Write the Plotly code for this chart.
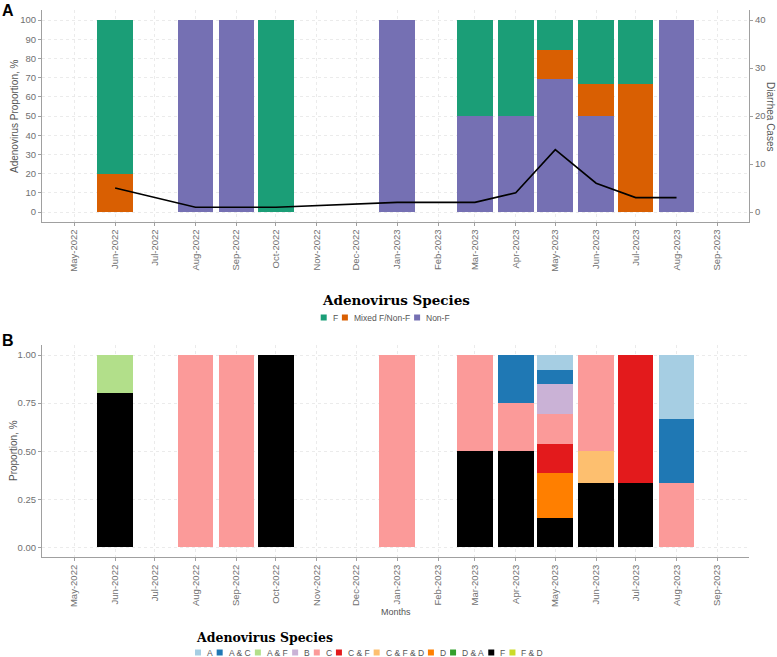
import plotly.graph_objects as go

# ---------------- data ----------------
months = ["2022-06-01", "2022-08-01", "2022-09-01", "2022-10-01", "2023-01-01",
          "2023-03-01", "2023-04-01", "2023-05-01", "2023-06-01", "2023-07-01", "2023-08-01"]

# Panel A: adenovirus proportion (%)
pct_F = [80, 0, 0, 100, 0, 50, 50, 15.4, 33.3, 33.3, 0]
pct_mixed = [20, 0, 0, 0, 0, 0, 0, 15.4, 16.7, 66.7, 0]
pct_nonF = [0, 100, 100, 0, 100, 50, 50, 69.2, 50, 0, 100]
diarrhea_cases = [5, 1, 1, 1, 2, 2, 4, 13, 6, 3, 3]

groups_A = ["F", "Mixed F/Non-F", "Non-F"]
colors_A = ["#1B9E77", "#D95F02", "#7570B3"]
values_A = [pct_F, pct_mixed, pct_nonF]

# Panel B: species proportion
species = ["A", "A & C", "A & F", "B", "C", "C & F", "C & F & D", "D", "D & A", "F", "F & D"]
colors_B = ["#A6CEE3", "#1F78B4", "#B2DF8A", "#CAB2D6", "#FB9A99", "#E31A1C",
            "#FDBF6F", "#FF7F00", "#33A02C", "#000000", "#CBDB2A"]
prop_A = [0, 0, 0, 0, 0, 0, 0, 0.077, 0, 0, 0.333]
prop_AC = [0, 0, 0, 0, 0, 0, 0.25, 0.077, 0, 0, 0.333]
prop_AF = [0.2, 0, 0, 0, 0, 0, 0, 0, 0, 0, 0]
prop_B = [0, 0, 0, 0, 0, 0, 0, 0.154, 0, 0, 0]
prop_C = [0, 1, 1, 0, 1, 0.5, 0.25, 0.154, 0.5, 0, 0.333]
prop_CF = [0, 0, 0, 0, 0, 0, 0, 0.154, 0, 0.667, 0]
prop_CFD = [0, 0, 0, 0, 0, 0, 0, 0, 0.167, 0, 0]
prop_D = [0, 0, 0, 0, 0, 0, 0, 0.231, 0, 0, 0]
prop_DA = [0, 0, 0, 0, 0, 0, 0, 0, 0, 0, 0]
prop_F = [0.8, 0, 0, 1, 0, 0.5, 0.5, 0.154, 0.333, 0.333, 0]
prop_FD = [0, 0, 0, 0, 0, 0, 0, 0, 0, 0, 0]
values_B = [prop_A, prop_AC, prop_AF, prop_B, prop_C, prop_CF, prop_CFD, prop_D, prop_DA, prop_F, prop_FD]

# ---------------- layout helpers ----------------
W, H = 777, 657
FONT = "Liberation Sans, Arial, sans-serif"
GRAY_TXT = "#707070"
AX_COL = "#a0a0a0"
GRID_COL = "#e6e6e6"
BAR_W = 27 * 86400000  # 27 days


def px(x):
    return x / W


def py(y):
    return 1 - y / H


def nz(v):
    return [None if a == 0 else a for a in v]


fig = go.Figure()

# Panel A bars (bottom-to-top: Non-F, Mixed, F)
for name, col, vals in reversed(list(zip(groups_A, colors_A, values_A))):
    fig.add_trace(go.Bar(x=months, y=nz(vals), name=name, marker_color=col, marker_line_width=0,
                         width=BAR_W, xaxis="x", yaxis="y", showlegend=False))

fig.add_trace(go.Scatter(x=months, y=diarrhea_cases, mode="lines", line=dict(color="black", width=1.6),
                         xaxis="x", yaxis="y2", showlegend=False))

# Panel B bars
for name, col, vals in reversed(list(zip(species, colors_B, values_B))):
    fig.add_trace(go.Bar(x=months, y=nz(vals), name=name, marker_color=col, marker_line_width=0,
                         width=BAR_W, xaxis="x2", yaxis="y3", showlegend=False))

xdom = [px(42), px(749)]
xrange = ["2022-04-06 12:00", "2023-09-25"]
xcommon = dict(type="date", range=xrange, tick0="2022-05-01", dtick="M1", tickformat="%b-%Y",
               tickangle=-90, showgrid=True, gridcolor=GRID_COL, griddash="dot", gridwidth=0.8,
               showline=True, linecolor=AX_COL, linewidth=1, ticks="outside", ticklen=3,
               tickcolor=AX_COL, tickfont=dict(family=FONT, size=9.5, color=GRAY_TXT),
               zeroline=False, automargin=False, fixedrange=True, domain=xdom)
ycommon = dict(showgrid=True, gridcolor=GRID_COL, griddash="dot", gridwidth=0.8,
               showline=True, linecolor=AX_COL, linewidth=1, ticks="outside", ticklen=3,
               tickcolor=AX_COL, tickfont=dict(family=FONT, size=9.5, color=GRAY_TXT),
               zeroline=False, automargin=False, fixedrange=True)

fig.update_layout(
    width=W, height=H, autosize=False,
    margin=dict(l=0, r=0, t=0, b=0),
    paper_bgcolor="white", plot_bgcolor="white",
    barmode="stack",
    xaxis=dict(xcommon, anchor="y"),
    yaxis=dict(ycommon, domain=[py(221.6), py(10.4)], range=[-5, 105], tickvals=list(range(0, 101, 10)),
               anchor="x"),
    yaxis2=dict(ycommon, overlaying="y", side="right", range=[-2, 42], tickvals=[0, 10, 20, 30, 40],
                showgrid=False, anchor="x"),
    xaxis2=dict(xcommon, anchor="y3"),
    yaxis3=dict(ycommon, domain=[py(557), py(345.4)], range=[-0.05, 1.05],
                tickvals=[0, 0.25, 0.5, 0.75, 1.0], tickformat=".2f", anchor="x2"),
)

ann = []
shapes = []


def text_ann(x, y, text, size, color="#4d4d4d", angle=0, bold=False, family=FONT, xanchor="center"):
    ann.append(dict(x=px(x), y=py(y), xref="paper", yref="paper", text=f"<b>{text}</b>" if bold else text,
                    showarrow=False, textangle=angle, xanchor=xanchor, yanchor="middle",
                    font=dict(family=family, size=size, color=color)))


# panel labels
text_ann(8, 10.5, "A", 16, color="black", bold=True)
text_ann(8, 340, "B", 16, color="black", bold=True)

# axis titles
text_ann(14, 116, "Adenovirus Proportion, %", 10, color="#555555", angle=-90)
text_ann(771, 116, "Diarrhea Cases", 10, color="#555555", angle=90)
text_ann(13, 451, "Proportion, %", 10, color="#555555", angle=-90)
text_ann(396, 612, "Months", 9, color="#555555")

# manual legends
CW = {"A": .667, "B": .667, "C": .722, "D": .722, "F": .611, "M": .833, "N": .722, "i": .222, "x": .5,
      "e": .556, "d": .556, "o": .556, "n": .556, " ": .278, "&": .667, "/": .278, "-": .333}


def text_w(s, size):
    return sum(CW.get(c, .556) for c in s) * size


def legend(x0, y_title, y_items, labels, cols, title_size, item_size):
    ann.append(dict(x=px(x0 - 1), y=py(y_title), xref="paper", yref="paper",
                    text="<b>Adenovirus Species</b>", showarrow=False, xanchor="left", yanchor="middle",
                    font=dict(family="DejaVu Serif, serif", size=title_size, color="black")))
    x = x0
    box = 6
    for lab, col in zip(labels, cols):
        shapes.append(dict(type="rect", xref="paper", yref="paper", x0=px(x), x1=px(x + box),
                           y0=py(y_items + box / 2), y1=py(y_items - box / 2), fillcolor=col,
                           line=dict(width=0)))
        x += box + 4
        ann.append(dict(x=px(x), y=py(y_items), xref="paper", yref="paper", text=lab, showarrow=False,
                        xanchor="left", yanchor="middle",
                        font=dict(family=FONT, size=item_size, color="#555555")))
        x += text_w(lab, item_size) + 6


legend(320.7, 300, 317.5, groups_A, colors_A, 13.5, 8.5)
legend(195, 637, 652.5, species, colors_B, 12.5, 8.5)

fig.update_layout(annotations=ann, shapes=shapes)
fig.write_html("out.html", config={"displayModeBar": False, "staticPlot": True},
               post_script="document.body.style.margin='0';document.body.style.overflow='hidden';")
